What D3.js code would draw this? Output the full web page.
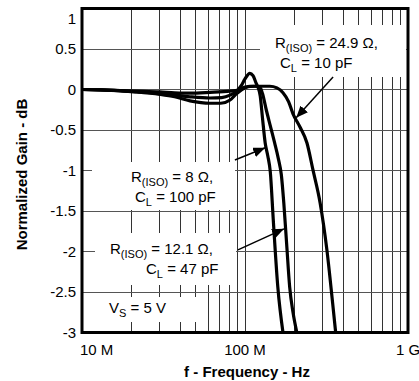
<!DOCTYPE html>
<html>
<head>
<meta charset="utf-8">
<script src="https://cdn.jsdelivr.net/npm/d3@7"></script>
<style>
  body { margin: 0; background: #fff; }
  text { font-family: "Liberation Sans", Arial, Helvetica, sans-serif; fill: #000; }
</style>
</head>
<body>
<div id="chart"></div>
<script>
// frequency in MHz, gain in dB
const freq8 = [10, 13, 21.7, 30, 37, 46, 61, 72, 81, 89, 95, 100, 107, 112, 117, 120, 124, 128, 133, 138, 143, 149, 159, 171];
const gain8 = [0, -0.005, -0.03, -0.05, -0.07, -0.09, -0.105, -0.1, -0.07, -0.02, 0.05, 0.13, 0.2, 0.17, 0.08, 0.03, -0.08, -0.35, -0.66, -0.82, -1.02, -1.6, -2.44, -3.0];

const freq12 = [10, 13, 21.7, 30, 37, 46, 61, 71, 81, 89, 100, 107, 117, 124, 128, 135, 143, 152, 160, 167, 173, 180, 188, 197, 208];
const gain12 = [0, -0.005, -0.03, -0.06, -0.09, -0.14, -0.17, -0.17, -0.13, -0.05, 0.02, 0.04, 0.04, 0.02, -0.05, -0.25, -0.45, -0.66, -0.85, -1.05, -1.4, -1.9, -2.44, -2.75, -3.0];

const freq25 = [10, 13, 21.7, 30, 37, 46, 61, 81, 90, 100, 115, 130, 142, 157, 171, 185, 197, 217, 240, 261, 289, 318, 345, 360];
const gain25 = [0, -0.005, -0.02, -0.03, -0.04, -0.045, -0.035, -0.02, -0.01, 0.03, 0.04, 0.04, 0.04, 0.02, -0.04, -0.15, -0.3, -0.46, -0.66, -0.99, -1.4, -1.98, -2.64, -3.0];

const yTicks = [1, 0.5, 0, -0.5, -1, -1.5, -2, -2.5, -3];
const xTicks = [10, 100, 1000];
const xTickLabels = ["10 M", "100 M", "1 G"];

const margin = {top: 8.5, right: 11, bottom: 48.5, left: 82};
const width = 419 - margin.left - margin.right;
const height = 381 - margin.top - margin.bottom;

const svg = d3.select("#chart").append("svg")
  .attr("width", 419)
  .attr("height", 381);

const x = d3.scaleLog().domain([10, 1000]).range([0, width]);
const y = d3.scaleLinear().domain([-3, 1]).range([height, 0]);

const g = svg.append("g")
  .attr("transform", `translate(${margin.left}, ${margin.top})`);

svg.append("defs").append("clipPath").attr("id", "plotclip")
  .append("rect").attr("width", width).attr("height", height);

svg.select("defs").append("marker")
  .attr("id", "arrow")
  .attr("markerUnits", "userSpaceOnUse")
  .attr("markerWidth", 12).attr("markerHeight", 10)
  .attr("refX", 12).attr("refY", 5)
  .attr("orient", "auto")
  .append("path").attr("d", "M0,0 L12,5 L0,10 Z").attr("fill", "#000");

// grid
const minor = [];
[10, 100].forEach(d => { for (let k = 2; k <= 9; k++) minor.push(d * k); });
minor.push(100);
g.selectAll(".vgrid").data(minor).enter().append("line")
  .attr("x1", d => x(d)).attr("x2", d => x(d))
  .attr("y1", 0).attr("y2", height)
  .attr("stroke", "#333").attr("stroke-width", 1)
  .attr("shape-rendering", "crispEdges");
g.selectAll(".hgrid").data(yTicks.slice(1, -1)).enter().append("line")
  .attr("x1", 0).attr("x2", width)
  .attr("y1", d => y(d)).attr("y2", d => y(d))
  .attr("stroke", "#555").attr("stroke-width", 1)
  .attr("shape-rendering", "crispEdges");

// white boxes behind labels (cover grid)
const boxes = [
  {x0: 178, y0: 16.5, x1: 324, y1: 68.5},
  {x0: 10, y0: 153.5, x1: 153, y1: 201.5},
  {x0: 13, y0: 224.5, x1: 154, y1: 276.5},
  {x0: 0, y0: 288.5, x1: 125, y1: 313.5}
];
g.selectAll(".box").data(boxes).enter().append("rect")
  .attr("x", d => d.x0).attr("y", d => d.y0)
  .attr("width", d => d.x1 - d.x0).attr("height", d => d.y1 - d.y0)
  .attr("fill", "#fff");

// curves
const line = d3.line()
  .x(d => x(d[0])).y(d => y(d[1]))
  .curve(d3.curveMonotoneX);
const series = [
  d3.zip(freq8, gain8),
  d3.zip(freq12, gain12),
  d3.zip(freq25, gain25)
];
g.append("g").attr("clip-path", "url(#plotclip)")
  .selectAll("path").data(series).enter().append("path")
  .attr("d", line)
  .attr("fill", "none")
  .attr("stroke", "#000")
  .attr("stroke-width", 3.2)
  .attr("stroke-linejoin", "round");

// frame
g.append("rect")
  .attr("width", width).attr("height", height)
  .attr("fill", "none").attr("stroke", "#000").attr("stroke-width", 3);

// y tick labels
g.selectAll(".ylab").data(yTicks).enter().append("text")
  .attr("x", -6)
  .attr("y", d => y(d))
  .attr("dy", d => d === 1 ? "1.0em" : "0.35em")
  .attr("text-anchor", "end")
  .style("font-size", "15px")
  .text(d => d3.format("")(d).replace("−", "-"));

// x tick labels
g.selectAll(".xlab").data(xTicks).enter().append("text")
  .attr("x", (d, i) => i === 0 ? x(d) - 2 : x(d))
  .attr("y", height + 22.5)
  .attr("text-anchor", (d, i) => i === 0 ? "start" : "middle")
  .style("font-size", "15px")
  .text((d, i) => xTickLabels[i]);

// axis titles
g.append("text")
  .attr("x", 165).attr("y", height + 44)
  .attr("text-anchor", "middle")
  .style("font-size", "15px").style("font-weight", "bold")
  .text("f - Frequency - Hz");
g.append("text")
  .attr("transform", `translate(${-55}, ${166}) rotate(-90)`)
  .attr("text-anchor", "middle")
  .style("font-size", "15px").style("font-weight", "bold")
  .text("Normalized Gain - dB");

// annotations
function rLabel(px, py, val) {
  const t = g.append("text").attr("x", px).attr("y", py).style("font-size", "15px");
  t.append("tspan").text("R");
  t.append("tspan").attr("dy", 4).style("font-size", "11px").text("(ISO)");
  t.append("tspan").attr("dy", -4).text(" = " + val + " Ω,");
}
function cLabel(px, py, val) {
  const t = g.append("text").attr("x", px).attr("y", py).style("font-size", "15px");
  t.append("tspan").text("C");
  t.append("tspan").attr("dy", 4).style("font-size", "11px").text("L");
  t.append("tspan").attr("dy", -4).text(" = " + val + " pF");
}
rLabel(193, 39.5, "24.9");
cLabel(198, 59.5, "10");
rLabel(49, 173.5, "8");
cLabel(53, 193.5, "100");
rLabel(28, 245.5, "12.1");
cLabel(64, 265.5, "47");

const vs = g.append("text").attr("x", 27).attr("y", 304.5).style("font-size", "15px");
vs.append("tspan").text("V");
vs.append("tspan").attr("dy", 4).style("font-size", "11px").text("S");
vs.append("tspan").attr("dy", -4).text(" = 5 V");

// arrows: [from f, from dB, to f, to dB]
const arrows = [
  [347, 0.154, 206, -0.35],
  [86.7, -0.87, 133, -0.72],
  [90.5, -1.98, 173.5, -1.72]
];
g.selectAll(".arrow").data(arrows).enter().append("line")
  .attr("x1", d => x(d[0])).attr("y1", d => y(d[1]))
  .attr("x2", d => x(d[2])).attr("y2", d => y(d[3]))
  .attr("stroke", "#000").attr("stroke-width", 1.5)
  .attr("marker-end", "url(#arrow)");
</script>
</body>
</html>
